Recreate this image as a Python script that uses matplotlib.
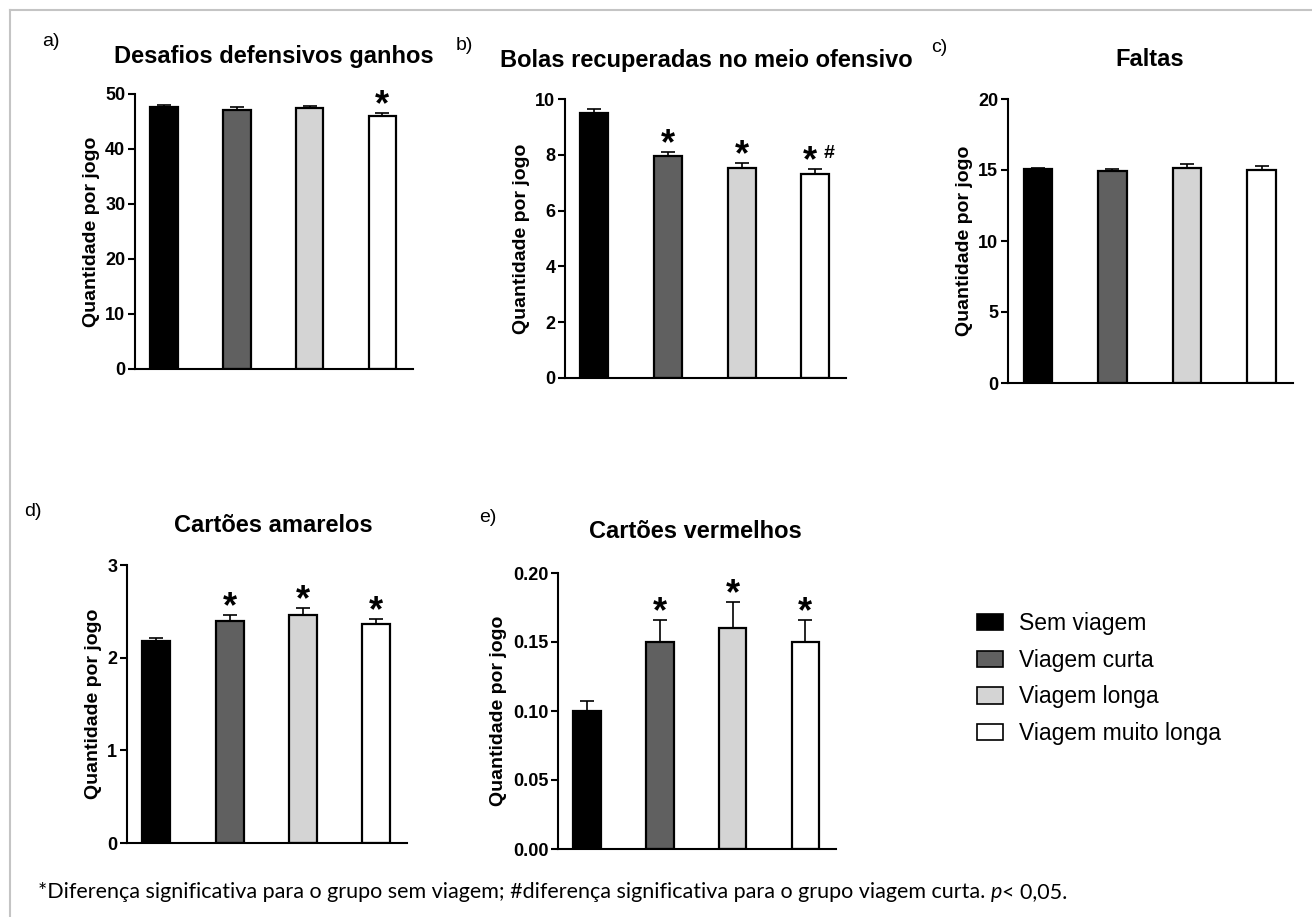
import numpy as np
import matplotlib
matplotlib.use('Agg')
import matplotlib.pyplot as plt
from matplotlib.patches import Patch
from matplotlib.lines import Line2D

plt.rcParams['font.family'] = ['Liberation Sans', 'DejaVu Sans']

# data (means and upper SEM)
grupos = ['Sem viagem', 'Viagem curta', 'Viagem longa', 'Viagem muito longa']
cores = ['#000000', '#606060', '#d4d4d4', '#ffffff']

desafios = [47.6, 47.0, 47.4, 46.05]
desafios_err = [0.36, 0.55, 0.5, 0.55]
desafios_sig = ['', '', '', '*']

bolas = [9.51, 7.96, 7.54, 7.32]
bolas_err = [0.12, 0.15, 0.18, 0.18]
bolas_sig = ['', '*', '*', '*#']

faltas = [15.05, 14.9, 15.17, 15.03]
faltas_err = [0.12, 0.19, 0.27, 0.23]
faltas_sig = ['', '', '', '']

amarelos = [2.18, 2.40, 2.46, 2.36]
amarelos_err = [0.03, 0.06, 0.08, 0.06]
amarelos_sig = ['', '*', '*', '*']

vermelhos = [0.100, 0.150, 0.160, 0.150]
vermelhos_err = [0.0073, 0.016, 0.0187, 0.0157]
vermelhos_sig = ['', '*', '*', '*']

W, H = 1312, 917
fig = plt.figure(figsize=(W / 100, H / 100), dpi=100)


def px_axes(x0, x1, y_top, y_bot):
    return fig.add_axes([x0 / W, 1 - y_bot / H, (x1 - x0) / W, (y_bot - y_top) / H])


def painel(ax, vals, errs, sig, yticks, fmt):
    x = np.arange(len(vals))
    ax.bar(x, vals, width=0.38, color=cores, edgecolor='black', linewidth=1.6, zorder=2)
    ax.errorbar(x, vals, yerr=[np.zeros(len(vals)), errs], fmt='none', ecolor='black',
                elinewidth=1.2, capsize=5, capthick=1.2, zorder=3)
    for xi, v, e, s in zip(x, vals, errs, sig):
        if not s:
            continue
        if '#' in s:
            ax.annotate('*', (xi, v + e), xytext=(-4, -1.5), textcoords='offset points',
                        ha='center', va='baseline', fontsize=26, fontweight='bold')
            ax.annotate('#', (xi, v + e), xytext=(10, 8), textcoords='offset points',
                        ha='center', va='baseline', fontsize=14, fontweight='bold')
        else:
            ax.annotate('*', (xi, v + e), xytext=(0, -1.5), textcoords='offset points',
                        ha='center', va='baseline', fontsize=26, fontweight='bold')
    ax.set_xlim(-0.4, 3.42)
    ax.set_ylim(yticks[0], yticks[-1])
    ax.set_yticks(yticks)
    ax.set_yticklabels([fmt % t for t in yticks], fontsize=13, fontweight='bold')
    ax.set_xticks([])
    ax.spines['top'].set_visible(False)
    ax.spines['right'].set_visible(False)
    ax.spines['left'].set_linewidth(1.5)
    ax.spines['bottom'].set_linewidth(1.5)
    ax.tick_params(axis='y', length=5, width=1.5, pad=2)
    ax.set_ylabel('Quantidade por jogo', fontsize=14, fontweight='bold', labelpad=4)


ax_a = px_axes(135, 413, 94, 369)
painel(ax_a, desafios, desafios_err, desafios_sig, [0, 10, 20, 30, 40, 50], '%d')
ax_b = px_axes(565, 846, 99, 378)
painel(ax_b, bolas, bolas_err, bolas_sig, [0, 2, 4, 6, 8, 10], '%d')
ax_c = px_axes(1008, 1293, 99, 383)
painel(ax_c, faltas, faltas_err, faltas_sig, [0, 5, 10, 15, 20], '%d')
ax_d = px_axes(127, 407, 565, 843)
painel(ax_d, amarelos, amarelos_err, amarelos_sig, [0, 1, 2, 3], '%d')
ax_e = px_axes(558, 836, 573, 849)
painel(ax_e, vermelhos, vermelhos_err, vermelhos_sig, [0, 0.05, 0.10, 0.15, 0.20], '%.2f')

titulos = [('Desafios defensivos ganhos', 274, 56), ('Bolas recuperadas no meio ofensivo', 706, 60),
           ('Faltas', 1150, 60), ('Cartões amarelos', 273, 525), ('Cartões vermelhos', 695, 531)]
for t, x, y in titulos:
    fig.text(x / W, 1 - y / H, t, ha='center', va='center', fontsize=17, fontweight='bold')

letras = [('a)', 42, 41), ('b)', 456, 45), ('c)', 931, 47), ('d)', 24, 512), ('e)', 479, 517)]
for t, x, y in letras:
    fig.text(x / W, 1 - y / H, t, ha='left', va='center', fontsize=14)

handles = [Patch(facecolor=c, edgecolor='black', linewidth=1.2) for c in cores]
fig.legend(handles, grupos, loc='upper left', bbox_to_anchor=(977 / W, 1 - 612 / H),
           frameon=False, fontsize=16.5, handlelength=1.15, handleheight=0.7,
           handletextpad=0.7, labelspacing=0.6, borderpad=0, borderaxespad=0)

# footnote
nota = ('*Diferença significativa para o grupo sem viagem; #diferença significativa '
        'para o grupo viagem curta. ')
t1 = fig.text(38 / W, 1 - 902 / H, nota, ha='left', va='bottom', fontsize=15.5, family='Lato')
t2 = ax_a.annotate('p', xy=(1, 0), xycoords=t1, ha='left', va='bottom', fontsize=15.5,
                   family='Lato', style='italic', annotation_clip=False)
ax_a.annotate('< 0,05.', xy=(1, 0), xycoords=t2, ha='left', va='bottom', fontsize=15.5,
              family='Lato', annotation_clip=False)

# thin frame on top and left
fig.add_artist(Line2D([10 / W, 1], [1 - 10 / H, 1 - 10 / H], transform=fig.transFigure,
                      color='#c4c4c4', lw=1.5))
fig.add_artist(Line2D([10 / W, 10 / W], [0, 1 - 10 / H], transform=fig.transFigure,
                      color='#c4c4c4', lw=1.5))

fig.savefig('out.png', dpi=100, facecolor='white')
